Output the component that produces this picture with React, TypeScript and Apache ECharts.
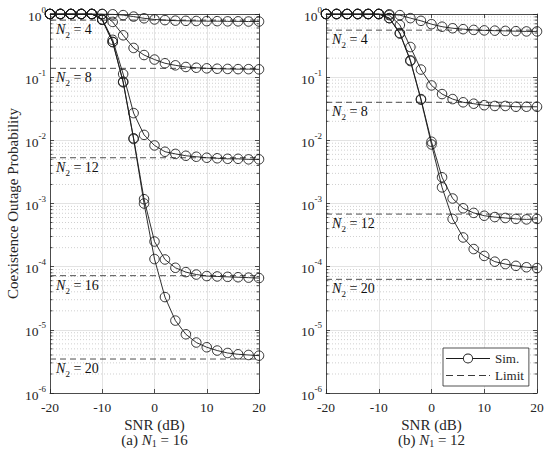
import React, { useEffect, useRef } from 'react';
import * as echarts from 'echarts';

// ---------- data ----------
const SNR = [-20, -18, -16, -14, -12, -10, -8, -6, -4, -2, 0, 2, 4, 6, 8, 10, 12, 14, 16, 18, 20];

// (a) N1 = 16
const A_N2 = ['4', '8', '12', '16', '20'];
const A_SIM_4 = [1, 1, 1, 1, 1, 1, 0.99, 0.96, 0.91, 0.855, 0.82, 0.8, 0.785, 0.78, 0.775, 0.77, 0.77, 0.765, 0.765, 0.76, 0.76];
const A_SIM_8 = [1, 1, 1, 1, 1, 1, 0.75, 0.46, 0.29, 0.224, 0.19, 0.166, 0.154, 0.145, 0.141, 0.138, 0.136, 0.135, 0.134, 0.134, 0.133];
const A_SIM_12 = [1, 1, 1, 1, 1, 0.82, 0.39, 0.112, 0.027, 0.0122, 0.0083, 0.0066, 0.0061, 0.0057, 0.0055, 0.0053, 0.0052, 0.0051, 0.0051, 0.005, 0.005];
const A_SIM_16 = [1, 1, 1, 1, 1, 0.81, 0.36, 0.085, 0.0108, 0.00117, 0.00025, 0.00013, 0.000096, 0.000082, 0.000075, 0.000071, 0.00007, 0.000069, 0.000068, 0.000067, 0.000066];
const A_SIM_20 = [1, 1, 1, 1, 1, 0.81, 0.36, 0.083, 0.0105, 0.001, 0.000132, 0.000033, 0.000014, 0.0000085, 0.0000063, 0.0000053, 0.0000047, 0.0000043, 0.0000041, 0.000004, 0.0000039];
const A_LIMIT = [0.8, 0.138, 0.0053, 0.000072, 0.00000345];

// (b) N1 = 12
const B_N2 = ['4', '8', '12', '20'];
const B_SIM_4 = [1, 1, 1, 1, 1, 1, 0.99, 0.96, 0.86, 0.78, 0.69, 0.63, 0.595, 0.575, 0.56, 0.55, 0.545, 0.54, 0.535, 0.53, 0.53];
const B_SIM_8 = [1, 1, 1, 1, 1, 1, 0.96, 0.67, 0.3, 0.132, 0.074, 0.054, 0.045, 0.04, 0.038, 0.036, 0.035, 0.035, 0.034, 0.034, 0.034];
const B_SIM_12 = [1, 1, 1, 1, 1, 1, 0.86, 0.5, 0.185, 0.045, 0.0095, 0.0026, 0.0012, 0.00084, 0.00071, 0.00064, 0.00061, 0.00059, 0.00057, 0.00056, 0.00057];
const B_SIM_20 = [1, 1, 1, 1, 1, 1, 0.86, 0.49, 0.18, 0.044, 0.0086, 0.0018, 0.00057, 0.00029, 0.00019, 0.000148, 0.00012, 0.00011, 0.000103, 0.000098, 0.000095];
const B_LIMIT = [0.555, 0.04, 0.00068, 0.000063];

// axis decoration
const X_MIN = -20;
const X_MAX = 20;
const X_STEP = 10;
const Y_MIN = 1e-6;
const Y_MAX = 1;
const DECADES = [1e-6, 1e-5, 1e-4, 1e-3, 1e-2, 1e-1];
const MINOR_MULTS = [2, 3, 4, 5, 6, 7, 8, 9];

const FONT = 'Liberation Serif, DejaVu Serif, serif';
const INK = '#262626';
const LINE = '#1a1a1a';
const DASH = '#3a3a3a';

// legend icons (44 x 10 box)
const SIM_ICON =
  'path://M0,0h0.01v0.01h-0.01z M43.99,9.99h0.01v0.01h-0.01z ' +
  'M0,4.55h17v0.9h-17z M27,4.55h17v0.9h-17z ' +
  'M27,5A5,5 0 1,0 17,5A5,5 0 1,0 27,5Z M26.1,5A4.1,4.1 0 1,1 17.9,5A4.1,4.1 0 1,1 26.1,5Z';
const LIMIT_ICON =
  'path://M0,0h0.01v0.01h-0.01z M43.99,9.99h0.01v0.01h-0.01z ' +
  'M0,4.55h7v0.9h-7z M11,4.55h7v0.9h-7z M22,4.55h7v0.9h-7z M33,4.55h7v0.9h-7z M43,4.55h1v0.9h-1z';

const minorData = DECADES.flatMap((d) => MINOR_MULTS.map((m) => [X_MIN, m * d]));

function App() {
  const ref = useRef<HTMLDivElement>(null);

  useEffect(() => {
    if (!ref.current) return;
    const chart = echarts.init(ref.current, undefined, { renderer: 'svg' });

    const grids = [
      { left: 50, top: 14, width: 209, height: 379 },
      { left: 326, top: 14, width: 211, height: 379 },
    ];

    const axisLine = { show: true, onZero: false, lineStyle: { color: INK, width: 0.8 } };
    const axisTick = { show: true, inside: true, length: 4, lineStyle: { color: INK, width: 0.8 } };

    const xAxes: any[] = [];
    const yAxes: any[] = [];
    [0, 1].forEach((g) => {
      xAxes.push({
        gridIndex: g,
        type: 'value',
        min: X_MIN,
        max: X_MAX,
        interval: X_STEP,
        position: 'bottom',
        axisLine,
        axisTick,
        axisLabel: { fontSize: 13.5, color: INK, fontFamily: FONT, margin: 7 },
        splitLine: { show: true, lineStyle: { color: '#dcdcdc', width: 0.8 } },
        name: 'SNR (dB)',
        nameLocation: 'middle',
        nameGap: 24,
        nameMoveOverlap: false,
        nameTextStyle: { fontSize: 15, color: INK, fontFamily: FONT, lineHeight: 15 },
      });
      xAxes.push({
        gridIndex: g,
        type: 'value',
        min: X_MIN,
        max: X_MAX,
        interval: X_STEP,
        position: 'top',
        axisLine,
        axisTick,
        axisLabel: { show: false },
        splitLine: { show: false },
      });
      yAxes.push({
        gridIndex: g,
        type: 'log',
        logBase: 10,
        min: Y_MIN,
        max: Y_MAX,
        splitNumber: 6,
        position: 'left',
        axisLine,
        axisTick,
        axisLabel: {
          margin: 4,
          formatter: (v: number) => `{b|10}{s|${Math.round(Math.log10(v))}}`,
          rich: {
            b: { fontSize: 13.5, fontFamily: FONT, color: INK, lineHeight: 18, verticalAlign: 'bottom' },
            s: { fontSize: 9, fontFamily: FONT, color: INK, lineHeight: 9, verticalAlign: 'top' },
          },
        },
        splitLine: { show: true, lineStyle: { color: '#dcdcdc', width: 0.8 } },
        name: g === 0 ? 'Coexistence Outage Probability' : '',
        nameLocation: 'middle',
        nameGap: 30,
        nameMoveOverlap: false,
        nameTextStyle: { fontSize: 15, color: INK, fontFamily: FONT },
      });
      yAxes.push({
        gridIndex: g,
        type: 'log',
        logBase: 10,
        min: Y_MIN,
        max: Y_MAX,
        splitNumber: 6,
        position: 'right',
        axisLine,
        axisTick,
        axisLabel: { show: false },
        splitLine: { show: false },
      });
    });

    const series: any[] = [];

    const addPlot = (g: number, sims: number[][], limits: number[], n2: string[]) => {
      const xi = g * 2;
      const yi = g * 2;
      series.push({
        type: 'custom',
        xAxisIndex: xi,
        yAxisIndex: yi,
        silent: true,
        z: 0,
        data: minorData,
        renderItem: (params: any, api: any) => {
          const cs = params.coordSys;
          const y = api.coord([api.value(0), api.value(1)])[1];
          const tick = { stroke: INK, lineWidth: 0.8 };
          return {
            type: 'group',
            children: [
              {
                type: 'line',
                shape: { x1: cs.x, y1: y, x2: cs.x + cs.width, y2: y },
                style: { stroke: '#c4c4c4', lineWidth: 0.8, lineDash: [1, 2] },
              },
              { type: 'line', shape: { x1: cs.x, y1: y, x2: cs.x + 2.5, y2: y }, style: tick },
              { type: 'line', shape: { x1: cs.x + cs.width - 2.5, y1: y, x2: cs.x + cs.width, y2: y }, style: tick },
            ],
          };
        },
      });
      limits.forEach((L) => {
        series.push({
          type: 'line',
          name: 'Limit',
          xAxisIndex: xi,
          yAxisIndex: yi,
          data: [[X_MIN, L], [X_MAX, L]],
          symbol: 'none',
          z: 2,
          lineStyle: { color: DASH, width: 0.9, type: [6, 4] },
          itemStyle: { color: DASH },
        });
      });
      sims.forEach((vals) => {
        series.push({
          type: 'line',
          name: 'Sim.',
          xAxisIndex: xi,
          yAxisIndex: yi,
          data: SNR.map((x, i) => [x, vals[i]]),
          symbol: 'circle',
          symbolSize: 9.5,
          showSymbol: true,
          showAllSymbol: true,
          z: 3,
          lineStyle: { color: LINE, width: 0.9 },
          itemStyle: { color: 'rgba(0,0,0,0)', borderColor: LINE, borderWidth: 0.9 },
        });
      });
      series.push({
        type: 'scatter',
        xAxisIndex: xi,
        yAxisIndex: yi,
        silent: true,
        z: 4,
        symbol: 'circle',
        symbolSize: 0.1,
        itemStyle: { color: 'rgba(0,0,0,0)' },
        data: limits.map((L, i) => ({ value: [X_MIN, L], name: n2[i] })),
        label: {
          show: true,
          position: 'right',
          distance: 6,
          offset: [0, 9.5],
          color: '#111',
          opacity: 1,
          formatter: (p: any) => `{n|N}{sub|2}{t| = ${p.name}}`,
          rich: {
            n: { fontSize: 14, fontStyle: 'italic', fontFamily: FONT, color: '#111', lineHeight: 20, verticalAlign: 'middle' },
            sub: { fontSize: 9, fontFamily: FONT, color: '#111', lineHeight: 9, verticalAlign: 'bottom' },
            t: { fontSize: 14, fontFamily: FONT, color: '#111', lineHeight: 20, verticalAlign: 'middle' },
          },
        },
      });
    };

    addPlot(0, [A_SIM_4, A_SIM_8, A_SIM_12, A_SIM_16, A_SIM_20], A_LIMIT, A_N2);
    addPlot(1, [B_SIM_4, B_SIM_8, B_SIM_12, B_SIM_20], B_LIMIT, B_N2);

    const capRich = {
      a: { fontSize: 15, fontFamily: FONT, fill: INK, lineHeight: 16, verticalAlign: 'middle' },
      n: { fontSize: 15, fontStyle: 'italic', fontFamily: FONT, fill: INK, lineHeight: 16, verticalAlign: 'middle' },
      sub: { fontSize: 10, fontFamily: FONT, fill: INK, lineHeight: 8, verticalAlign: 'bottom' },
    };

    chart.setOption({
      animation: false,
      backgroundColor: '#ffffff',
      grid: grids,
      xAxis: xAxes,
      yAxis: yAxes,
      legend: {
        data: [
          { name: 'Sim.', icon: SIM_ICON, itemStyle: { color: LINE, borderWidth: 0, opacity: 1 } },
          { name: 'Limit', icon: LIMIT_ICON, itemStyle: { color: DASH, borderWidth: 0, opacity: 1 } },
        ],
        orient: 'vertical',
        left: 443,
        top: 348,
        itemWidth: 44,
        itemHeight: 10,
        itemGap: 4,
        padding: [4, 5, 4, 3],
        backgroundColor: '#ffffff',
        borderColor: INK,
        borderWidth: 0.8,
        borderRadius: 0,
        selectedMode: false,
        textStyle: { fontSize: 13, fontFamily: FONT, color: INK },
      },
      graphic: [
        {
          type: 'text',
          x: 154.5,
          y: 440,
          style: { text: '{a|(a) }{n|N}{sub|1}{a| = 16}', rich: capRich, align: 'center', verticalAlign: 'middle' },
        },
        {
          type: 'text',
          x: 431.5,
          y: 440,
          style: { text: '{a|(b) }{n|N}{sub|1}{a| = 12}', rich: capRich, align: 'center', verticalAlign: 'middle' },
        },
      ],
      series,
    });

    return () => chart.dispose();
  }, []);

  return (
    <div
      ref={ref}
      style={{ position: 'fixed', left: 0, top: 0, width: 550, height: 453, background: '#fff' }}
    />
  );
}

export default App;
